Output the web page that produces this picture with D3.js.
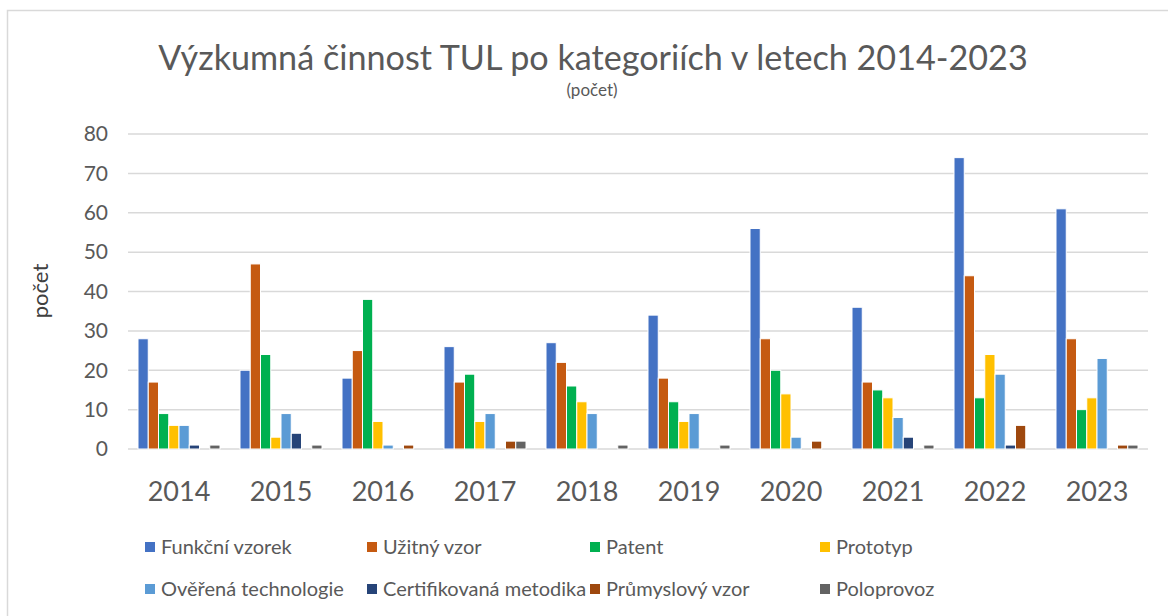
<!DOCTYPE html>
<html>
<head>
<meta charset="utf-8">
<script src="https://cdn.jsdelivr.net/npm/d3@7"></script>
<style>
  body { margin: 0; background: #fff; }
  text { font-family: Lato, "Open Sans", sans-serif; }
</style>
</head>
<body>
<div id="chart"></div>
<script>
const years = ["2014", "2015", "2016", "2017", "2018", "2019", "2020", "2021", "2022", "2023"];
const seriesNames = ["Funkční vzorek", "Užitný vzor", "Patent", "Prototyp",
  "Ověřená technologie", "Certifikovaná metodika", "Průmyslový vzor", "Poloprovoz"];
const seriesColors = ["#4472C4", "#C55A11", "#00B050", "#FFC000",
  "#5B9BD5", "#264478", "#9E480E", "#636363"];

// values per series, one per year
const funkcniVzorek = [28, 20, 18, 26, 27, 34, 56, 36, 74, 61];
const uzitnyVzor = [17, 47, 25, 17, 22, 18, 28, 17, 44, 28];
const patent = [9, 24, 38, 19, 16, 12, 20, 15, 13, 10];
const prototyp = [6, 3, 7, 7, 12, 7, 14, 13, 24, 13];
const overenaTechnologie = [6, 9, 1, 9, 9, 9, 3, 8, 19, 23];
const certifikovanaMetodika = [1, 4, 0, 0, 0, 0, 0, 3, 1, 0];
const prumyslovyVzor = [0, 0, 1, 2, 0, 0, 2, 0, 6, 1];
const poloprovoz = [1, 1, 0, 2, 1, 1, 0, 1, 0, 1];
const yTicks = [0, 10, 20, 30, 40, 50, 60, 70, 80];

const seriesValues = [funkcniVzorek, uzitnyVzor, patent, prototyp,
  overenaTechnologie, certifikovanaMetodika, prumyslovyVzor, poloprovoz];

const width = 1168, height = 616;
const plot = { left: 128, right: 1148, top: 134, bottom: 449 };

const svg = d3.select("#chart").append("svg")
  .attr("width", width)
  .attr("height", height);

// outer chart border (cut off on right and bottom like the screenshot)
svg.append("rect")
  .attr("x", 7.5).attr("y", 10.5)
  .attr("width", 1200).attr("height", 700)
  .attr("fill", "#fff")
  .attr("stroke", "#d9d9d9")
  .attr("stroke-width", 1.5);

const x0 = d3.scaleBand().domain(years).range([plot.left, plot.right]);
const x1 = d3.scaleBand().domain(seriesNames).range([10, x0.bandwidth() - 10]);
const y = d3.scaleLinear().domain([0, 80]).range([plot.bottom, plot.top]);

// gridlines
svg.append("g")
  .selectAll("line")
  .data(yTicks)
  .join("line")
  .attr("x1", plot.left).attr("x2", plot.right)
  .attr("y1", d => y(d)).attr("y2", d => y(d))
  .attr("stroke", "#d9d9d9")
  .attr("stroke-width", 1.5);

// y tick labels
svg.append("g")
  .selectAll("text")
  .data(yTicks)
  .join("text")
  .attr("x", 108)
  .attr("y", d => y(d))
  .attr("dy", "0.35em")
  .attr("text-anchor", "end")
  .attr("font-size", 21)
  .attr("fill", "#595959")
  .text(d => d);

// bars
const groups = svg.append("g")
  .selectAll("g")
  .data(years)
  .join("g")
  .attr("transform", d => `translate(${x0(d)},0)`);

groups.selectAll("rect")
  .data((yr, i) => seriesNames.map((s, j) => ({ s, j, v: seriesValues[j][i] })))
  .join("rect")
  .filter(d => d.v > 0)
  .attr("x", d => x1(d.s))
  .attr("y", d => y(d.v))
  .attr("width", x1.bandwidth())
  .attr("height", d => y(0) - y(d.v))
  .attr("fill", d => seriesColors[d.j])
  .attr("stroke", "#fff")
  .attr("stroke-width", 1);

// x labels
svg.append("g")
  .selectAll("text")
  .data(years)
  .join("text")
  .attr("x", d => x0(d) + x0.bandwidth() / 2)
  .attr("y", 492)
  .attr("dy", "0.35em")
  .attr("text-anchor", "middle")
  .attr("font-size", 27)
  .attr("fill", "#595959")
  .text(d => d);

// title
const title = svg.append("text")
  .attr("x", 593)
  .attr("y", 70)
  .attr("text-anchor", "middle")
  .attr("font-size", 31)
  .attr("fill", "#595959")
  .text("Výzkumná činnost TUL po kategoriích v letech 2014-2023");
// fit title to the width seen in the picture
const tw = title.node().getComputedTextLength();
title.attr("font-size", 31 * 870 / tw);

svg.append("text")
  .attr("x", 592)
  .attr("y", 90)
  .attr("dy", "0.35em")
  .attr("text-anchor", "middle")
  .attr("font-size", 17)
  .attr("fill", "#595959")
  .text("(počet)");

// y axis title
svg.append("text")
  .attr("transform", "translate(40,291) rotate(-90)")
  .attr("dy", "0.35em")
  .attr("text-anchor", "middle")
  .attr("font-size", 22)
  .attr("fill", "#404040")
  .text("počet");

// legend
const legendCols = [145, 367, 590, 820];
const legendRows = [547, 589];
const legend = svg.append("g")
  .selectAll("g")
  .data(seriesNames)
  .join("g")
  .attr("transform", (d, i) => `translate(${legendCols[i % 4]},${legendRows[Math.floor(i / 4)]})`);

legend.append("rect")
  .attr("x", 0).attr("y", -5)
  .attr("width", 10).attr("height", 10)
  .attr("fill", (d, i) => seriesColors[i]);

legend.append("text")
  .attr("x", 16)
  .attr("dy", "0.35em")
  .attr("font-size", 20)
  .attr("fill", "#595959")
  .text(d => d);
</script>
</body>
</html>
